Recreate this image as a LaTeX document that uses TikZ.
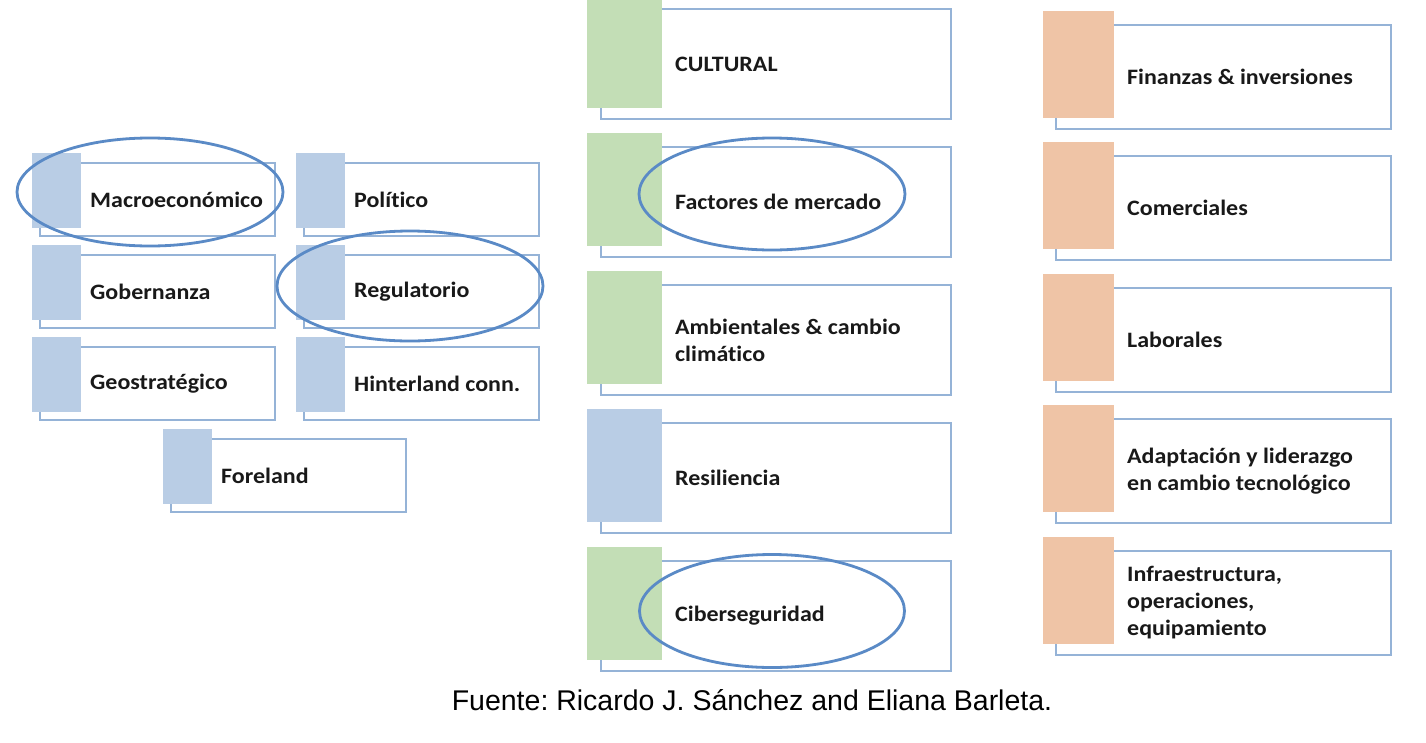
\documentclass[tikz,border=0pt]{standalone}
\usepackage{fontspec}
\setmainfont{Carlito}
\newfontfamily\lblfont{Carlito}[FakeStretch=1.09, Ligatures=NoCommon]
\newfontfamily\capfont{Liberation Sans}
\usetikzlibrary{shapes.geometric}
\definecolor{cblue}{HTML}{B9CDE5}
\definecolor{cgreen}{HTML}{C3DEB6}
\definecolor{corange}{HTML}{EFC4A6}
\definecolor{cline}{HTML}{95B3D7}
\definecolor{cring}{HTML}{5A8AC6}
\tikzset{
  outline/.style={draw=cline, line width=1.7pt},
  tab/.style={inner sep=0pt, outer sep=0pt, anchor=north west},
  lbl/.style={anchor=west, inner sep=0pt, align=left, font=\lblfont\fontsize{22}{27}\selectfont\bfseries, text=black!90},
  ring/.style={ellipse, draw=cring, line width=2.8pt, inner sep=0pt},
}
\begin{document}
\frenchspacing
\begin{tikzpicture}[x=1pt,y=-1pt]
\useasboundingbox (0,0) rectangle (1426,742);
\fill[white] (0,0) rectangle (1426,742);
% ---------- left group ----------
\foreach \nm/\tx/\ty/\rx/\col/\txt in {
  macro/32/153/275/cblue/Macroeconómico,
  poli/296/153/539/cblue/Político,
  gob/32/245/275/cblue/Gobernanza,
  reg/296/245/539/cblue/Regulatorio,
  geo/32/337/275/cblue/Geostratégico,
  hint/296/337/539/cblue/Hinterland conn.,
  fore/163/429/406/cblue/Foreland}{
  \draw[outline] ({\tx+8},{\ty+10}) rectangle (\rx,{\ty+83});
  \node[tab, fill=\col, minimum width=49pt, minimum height=75pt] (\nm-tab) at (\tx,\ty) {};
  \node[lbl] (\nm) at ({\tx+58},{\ty+46.5}) {\txt};
}
% ---------- middle column ----------
\foreach \nm/\ty/\col/\txt in {
  cult/-5/cgreen/CULTURAL,
  fact/133/cgreen/Factores de mercado,
  amb/271/cgreen/{Ambientales \& cambio\\climático},
  res/409/cblue/Resiliencia,
  cib/547/cgreen/Ciberseguridad}{
  \draw[outline] (601,{\ty+14}) rectangle (951,{\ty+124});
  \node[tab, fill=\col, minimum width=75pt, minimum height=113pt] (\nm-tab) at (587,\ty) {};
  \node[lbl] (\nm) at (675,{\ty+69}) {\txt};
}
% ---------- right column ----------
\foreach \nm/\ty/\txt in {
  fin/11/{Finanzas \& inversiones},
  com/142/Comerciales,
  lab/274/Laborales,
  adap/405/{Adaptación y liderazgo\\en cambio tecnológico},
  infra/537/{Infraestructura,\\operaciones,\\equipamiento}}{
  \draw[outline] (1056,{\ty+14}) rectangle (1391,{\ty+118});
  \node[tab, fill=corange, minimum width=71pt, minimum height=107pt] (\nm-tab) at (1043,\ty) {};
  \node[lbl] (\nm) at (1127,{\ty+66}) {\txt};
}
% ---------- highlight rings ----------
\node[ring, minimum width=266pt, minimum height=108pt] (r1) at (150,192) {};
\node[ring, minimum width=266pt, minimum height=110pt] (r2) at (410,286) {};
\node[ring, minimum width=266pt, minimum height=112pt] (r3) at (772,194) {};
\node[ring, minimum width=265pt, minimum height=113pt] (r4) at (772,611) {};
% ---------- caption ----------
\node[font=\capfont\fontsize{28.5}{32}\selectfont, inner sep=0pt] (src) at (752,700) {Fuente: Ricardo J. Sánchez and Eliana Barleta.};
\end{tikzpicture}
\end{document}
